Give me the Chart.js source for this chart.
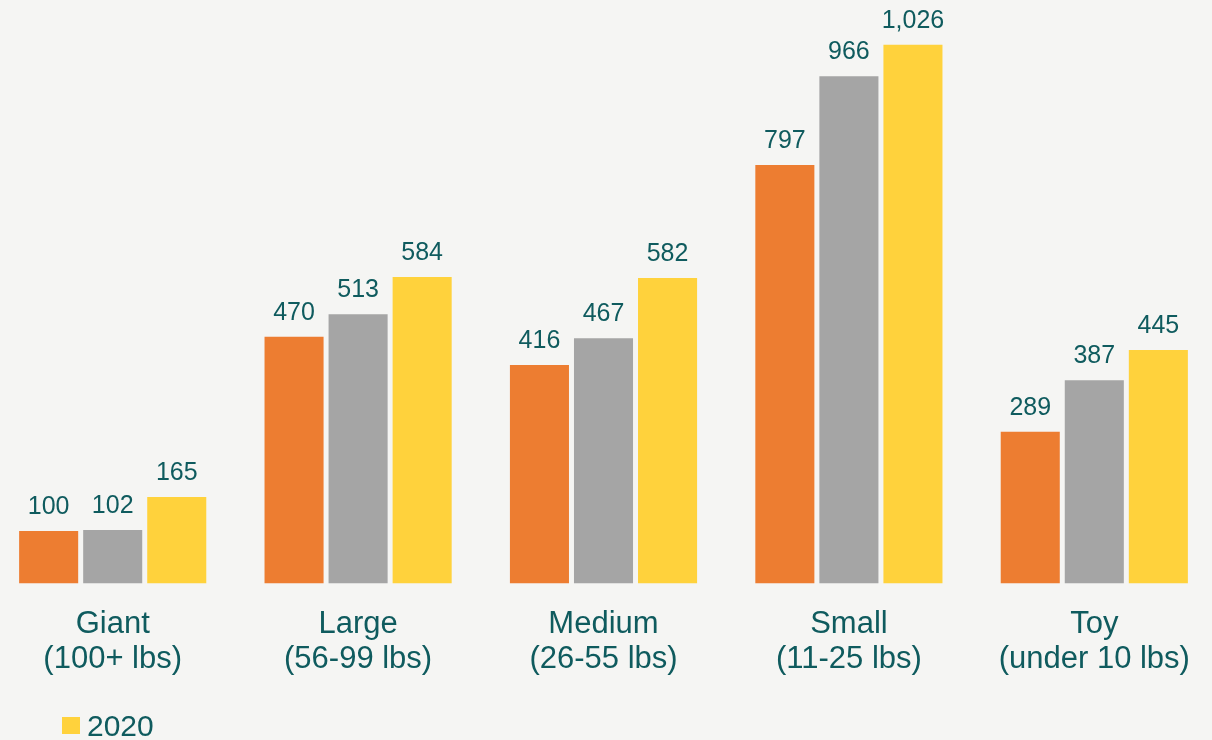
<!DOCTYPE html>
<html>
<head>
<meta charset="utf-8">
<script src="https://cdn.jsdelivr.net/npm/chart.js@4/dist/chart.umd.min.js"></script>
<style>
  html, body { margin: 0; padding: 0; width: 1212px; height: 740px; overflow: hidden; background: #f5f5f3; }
  #wrap { position: absolute; left: -10px; top: 0; width: 1227px; height: 740px; }
</style>
</head>
<body>
<div id="wrap"><canvas id="c" width="1227" height="740"></canvas></div>
<script>
const categories = [
  ['Giant', '(100+ lbs)'],
  ['Large', '(56-99 lbs)'],
  ['Medium', '(26-55 lbs)'],
  ['Small', '(11-25 lbs)'],
  ['Toy', '(under 10 lbs)']
];
const seriesNames = ['2018', '2019', '2020'];
const values2018 = [100, 470, 416, 797, 289];
const values2019 = [102, 513, 467, 966, 387];
const values2020 = [165, 584, 582, 1026, 445];
const legendShown = ['2020'];

const TEXT = '#0f5b5e';
const FONT = '"Liberation Sans", Arial, sans-serif';
const colors = ['#ED7D31', '#A5A5A5', '#FFD23C'];

const valueLabels = {
  id: 'valueLabels',
  afterDatasetsDraw(chart) {
    const ctx = chart.ctx;
    ctx.save();
    ctx.fillStyle = TEXT;
    ctx.font = '25px ' + FONT;
    ctx.textAlign = 'center';
    ctx.textBaseline = 'alphabetic';
    chart.data.datasets.forEach((ds, di) => {
      chart.getDatasetMeta(di).data.forEach((bar, i) => {
        ctx.fillText(ds.data[i].toLocaleString('en-US'), bar.x, bar.y - 17);
      });
    });
    ctx.restore();
  }
};

const customLegend = {
  id: 'customLegend',
  afterDraw(chart) {
    const ctx = chart.ctx;
    ctx.save();
    let x = 72;
    chart.data.datasets.forEach((ds) => {
      if (!legendShown.includes(ds.label)) return;
      ctx.fillStyle = ds.backgroundColor;
      ctx.fillRect(x, 717, 18, 17);
      ctx.fillStyle = TEXT;
      ctx.font = '30px ' + FONT;
      ctx.textBaseline = 'alphabetic';
      ctx.textAlign = 'left';
      ctx.fillText(ds.label, x + 25, 736);
      x += 25 + ctx.measureText(ds.label).width + 20;
    });
    ctx.restore();
  }
};

new Chart(document.getElementById('c'), {
  type: 'bar',
  data: {
    labels: categories,
    datasets: [
      { label: seriesNames[0], data: values2018, backgroundColor: colors[0] },
      { label: seriesNames[1], data: values2019, backgroundColor: colors[1] },
      { label: seriesNames[2], data: values2020, backgroundColor: colors[2] }
    ]
  },
  options: {
    responsive: false,
    animation: false,
    devicePixelRatio: 1,
    categoryPercentage: 0.783,
    barPercentage: 0.922,
    layout: { padding: { top: 6, bottom: 0, left: 0, right: 0 } },
    plugins: { legend: { display: false }, tooltip: { enabled: false } },
    scales: {
      x: {
        grid: { display: false },
        border: { display: false },
        ticks: { color: TEXT, font: { family: FONT, size: 31, lineHeight: 1.13 }, padding: 15, maxRotation: 0, autoSkip: false },
        afterFit(scale) { scale.height = 156.5; }
      },
      y: {
        display: false,
        min: 0,
        max: 1100
      }
    }
  },
  plugins: [valueLabels, customLegend]
});
</script>
</body>
</html>
